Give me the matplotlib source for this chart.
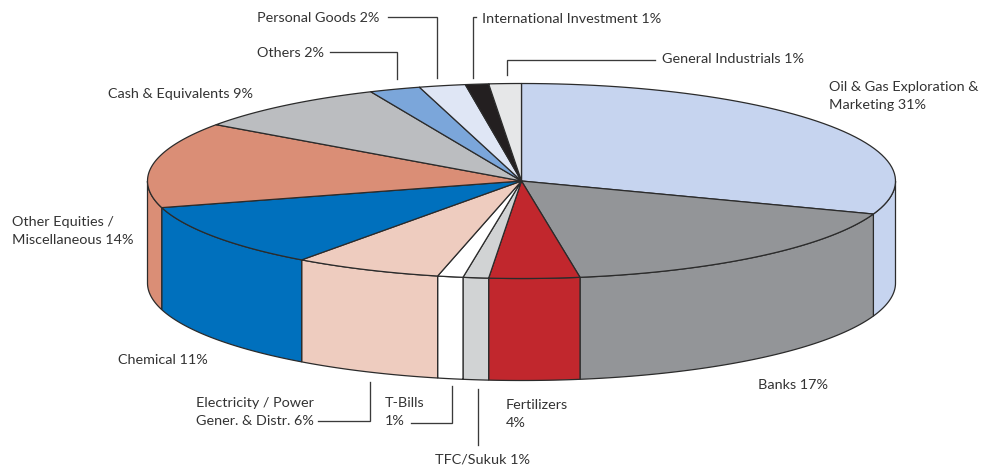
import numpy as np
import matplotlib
matplotlib.use('Agg')
import matplotlib.pyplot as plt
from matplotlib.patches import Polygon

plt.rcParams['font.family'] = ['Lato', 'DejaVu Sans']

# clockwise from 12 o'clock
sectors = ['Oil & Gas Exploration &\nMarketing 31%', 'Banks 17%', 'Fertilizers\n4%', 'TFC/Sukuk 1%',
           'T-Bills\n1%', 'Electricity / Power\nGener. & Distr. 6%', 'Chemical 11%',
           'Other Equities /\nMiscellaneous 14%', 'Cash & Equivalents 9%', 'Others 2%',
           'Personal Goods 2%', 'International Investment 1%', 'General Industrials 1%']
# slice sizes, the printed labels are rounded
shares = [30.5, 17.0, 3.9, 1.1, 1.1, 6.4, 10.6, 14.2, 8.6, 2.2, 2.0, 1.0, 1.4]
colors = ['#c6d4ef', '#939598', '#c1272d', '#d1d3d4', '#ffffff', '#eeccbf', '#0070bd',
          '#da8e76', '#bbbdc0', '#7ba6da', '#dfe6f5', '#231f20', '#e6e7e8']

CX, CY, RX, RY, DEPTH = 521.5, 181, 374, 97.5, 102
EDGE = '#2b2b2b'


def rim(a1, a2, dy=0, n=60):
    t = np.radians(np.linspace(a1, a2, n))
    return np.column_stack([CX + RX * np.cos(t), CY - RY * np.sin(t) + dy])


fig = plt.figure(figsize=(9.99, 4.68), dpi=100)
ax = fig.add_axes([0, 0, 1, 1])
ax.set_xlim(0, 999)
ax.set_ylim(468, 0)
ax.axis('off')

edges = 90 - np.cumsum([0] + shares) * 3.6

# side wall first, only the front half (180..360 deg) shows
for i, c in enumerate(colors):
    hi, lo = edges[i] % 360, edges[i + 1] % 360
    if hi == 0:
        hi = 360
    # unwrap so that lo < hi
    if lo > hi:
        lo -= 360
    for base in (0, 360):
        a1 = max(lo + base, 180)
        a2 = min(hi + base, 360)
        if a2 > a1:
            top = rim(a2, a1)
            bottom = rim(a1, a2, dy=DEPTH)
            ax.add_patch(Polygon(np.vstack([top, bottom]), closed=True, fc=c, ec=EDGE, lw=0.9, zorder=2))

# top face
for i, c in enumerate(colors):
    pts = np.vstack([[CX, CY], rim(edges[i], edges[i + 1])])
    ax.add_patch(Polygon(pts, closed=True, fc=c, ec=EDGE, lw=0.9, joinstyle='round', zorder=3))

# leader lines
leaders = [
    ([388, 437, 437], [17, 17, 78]),
    ([330, 397, 397], [52, 52, 79]),
    ([476, 473, 473], [17, 17, 78]),
    ([655, 507, 507], [60, 60, 75]),
    ([318, 370, 370], [421, 421, 382]),
    ([411, 452, 452], [423, 423, 386]),
    ([478, 478], [389, 445]),
]
for xs, ys in leaders:
    ax.plot(xs, ys, color='#3a3a3a', lw=0.95, solid_joinstyle='miter', zorder=4)

label_xy = [(829, 96), (758, 385), (506, 414), (435, 459), (385, 412), (196, 412),
            (118, 360), (12, 231), (108, 94), (257, 53), (257, 18), (482, 19), (662, 59)]
for name, (x, y) in zip(sectors, label_xy):
    ax.text(x, y, name, ha='left', va='center', fontsize=10.4, color='#333333', linespacing=1.67, zorder=5)

fig.savefig('out.png', dpi=100)
